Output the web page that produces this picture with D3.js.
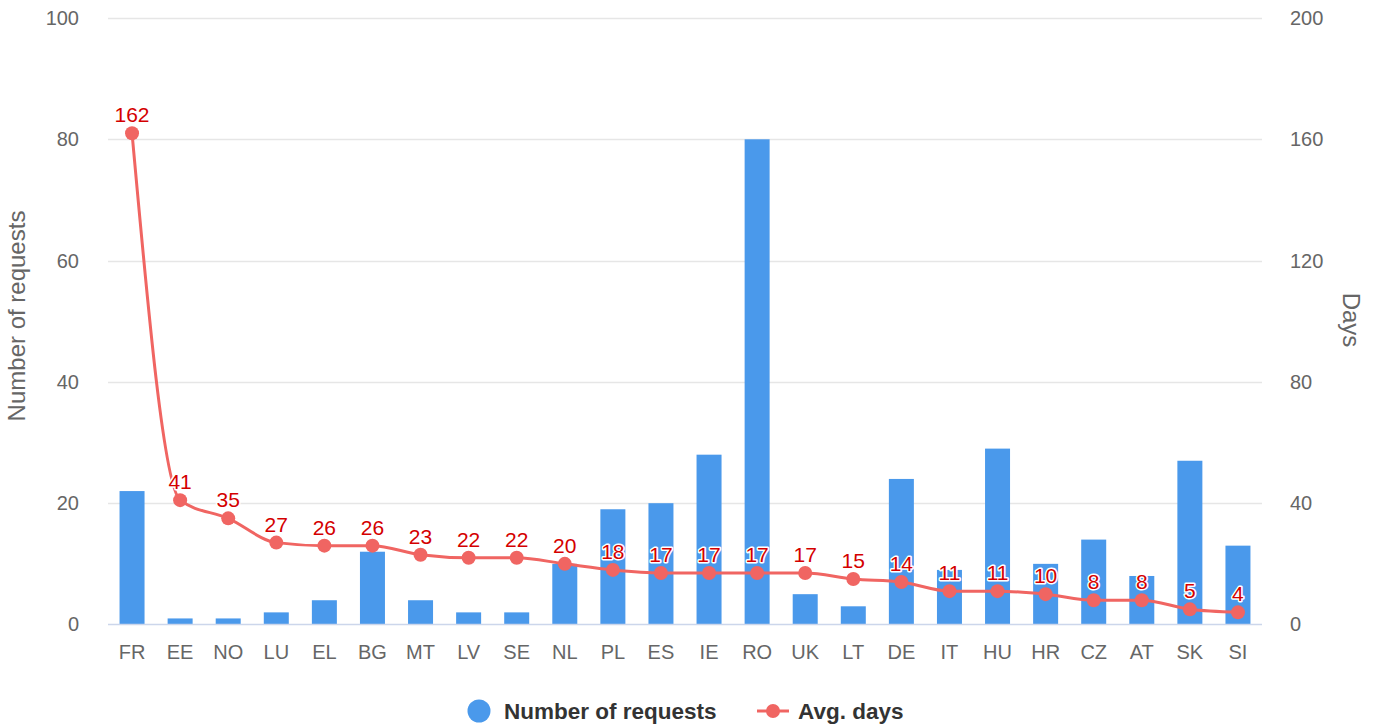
<!DOCTYPE html>
<html><head><meta charset="utf-8">
<script src="https://cdn.jsdelivr.net/npm/d3@7"></script>
<style>body{margin:0;background:#fff;font-family:"Liberation Sans",Arial,sans-serif}</style>
</head><body><svg id="c" width="1378" height="728"></svg>
<script>
const categories = ["FR","EE","NO","LU","EL","BG","MT","LV","SE","NL","PL","ES","IE","RO","UK","LT","DE","IT","HU","HR","CZ","AT","SK","SI"];
const requests = [22,1,1,2,4,12,4,2,2,10,19,20,28,80,5,3,24,9,29,10,14,8,27,13];
const avgDays = [162,41,35,27,26,26,23,22,22,20,18,17,17,17,17,15,14,11,11,10,8,8,5,4];
const leftTicks = [0,20,40,60,80,100];
const rightTicks = [0,40,80,120,160,200];

const svg = d3.select("#c");
const L=108, R=1262, T=18, B=624.5;
const x = d3.scaleBand().domain(categories).range([L,R]).paddingInner(0).paddingOuter(0);
const yL = d3.scaleLinear().domain([0,100]).range([B,T]);
const yR = d3.scaleLinear().domain([0,200]).range([B,T]);
const barW = 25;
const blue="#4a99eb", red="#f06562";
const FF="Liberation Sans, Arial, sans-serif";

// grid
svg.append("g").selectAll("line").data(leftTicks.slice(1)).join("line")
  .attr("x1",L).attr("x2",R).attr("y1",d=>Math.round(yL(d))+0.5).attr("y2",d=>Math.round(yL(d))+0.5)
  .attr("stroke","#e6e6e6").attr("stroke-width",1.5);

// left axis
const gl = svg.append("g").attr("transform",`translate(${L-29},0)`)
  .call(d3.axisLeft(yL).tickValues(leftTicks).tickSize(0).tickPadding(0));
gl.select(".domain").remove();
gl.selectAll("text").attr("font-size",20).attr("fill","#666").attr("font-family",FF);

// right axis
const gr = svg.append("g").attr("transform",`translate(${R+28},0)`)
  .call(d3.axisRight(yR).tickValues(rightTicks).tickSize(0).tickPadding(0));
gr.select(".domain").remove();
gr.selectAll("text").attr("font-size",20).attr("fill","#666").attr("font-family",FF);

// bars
svg.append("g").selectAll("rect").data(requests).join("rect")
  .attr("x",(d,i)=>x(categories[i])+x.bandwidth()/2-barW/2)
  .attr("width",barW)
  .attr("y",d=>yL(d)).attr("height",d=>B-yL(d))
  .attr("fill",blue);

// baseline
svg.append("line").attr("x1",L).attr("x2",R).attr("y1",B).attr("y2",B)
  .attr("stroke","#ccd6eb").attr("stroke-width",1.5);

// x axis labels
const gx = svg.append("g").attr("transform",`translate(0,${B+16})`)
  .call(d3.axisBottom(x).tickSize(0).tickPadding(0));
gx.select(".domain").remove();
gx.selectAll("text").attr("font-size",20).attr("fill","#666").attr("dy","0.9em").attr("font-family",FF);

// line
const pts = avgDays.map((d,i)=>[x(categories[i])+x.bandwidth()/2, yR(d)]);
svg.append("path").attr("d",d3.line().curve(d3.curveMonotoneX)(pts))
  .attr("fill","none").attr("stroke",red).attr("stroke-width",3);
svg.append("g").selectAll("circle").data(pts).join("circle")
  .attr("cx",d=>d[0]).attr("cy",d=>d[1]).attr("r",7).attr("fill",red);

// data labels
svg.append("g").selectAll("text").data(avgDays).join("text")
  .attr("x",(d,i)=>pts[i][0]).attr("y",(d,i)=>pts[i][1]-11)
  .attr("text-anchor","middle").attr("font-size",21).attr("fill","#d40000")
  .attr("stroke","#fff").attr("stroke-width",3).attr("paint-order","stroke").attr("stroke-linejoin","round")
  .attr("font-family",FF)
  .text(d=>d);

// axis titles
svg.append("text").attr("transform",`translate(25,${316}) rotate(-90)`)
  .attr("text-anchor","middle").attr("font-size",24).attr("fill","#666").attr("font-family",FF).text("Number of requests");
svg.append("text").attr("transform",`translate(1343,${320}) rotate(90)`)
  .attr("text-anchor","middle").attr("font-size",24).attr("fill","#666").attr("font-family",FF).text("Days");

// legend
const lg = svg.append("g");
lg.append("circle").attr("cx",479).attr("cy",711).attr("r",11.5).attr("fill",blue);
lg.append("text").attr("x",504).attr("y",719).attr("font-size",22.5).attr("font-weight","bold").attr("fill","#333").attr("font-family",FF).text("Number of requests");
lg.append("line").attr("x1",757).attr("x2",789).attr("y1",711).attr("y2",711).attr("stroke",red).attr("stroke-width",3);
lg.append("circle").attr("cx",773).attr("cy",711).attr("r",7).attr("fill",red);
lg.append("text").attr("x",798).attr("y",719).attr("font-size",22.5).attr("font-weight","bold").attr("fill","#333").attr("font-family",FF).text("Avg. days");
</script></body></html>
